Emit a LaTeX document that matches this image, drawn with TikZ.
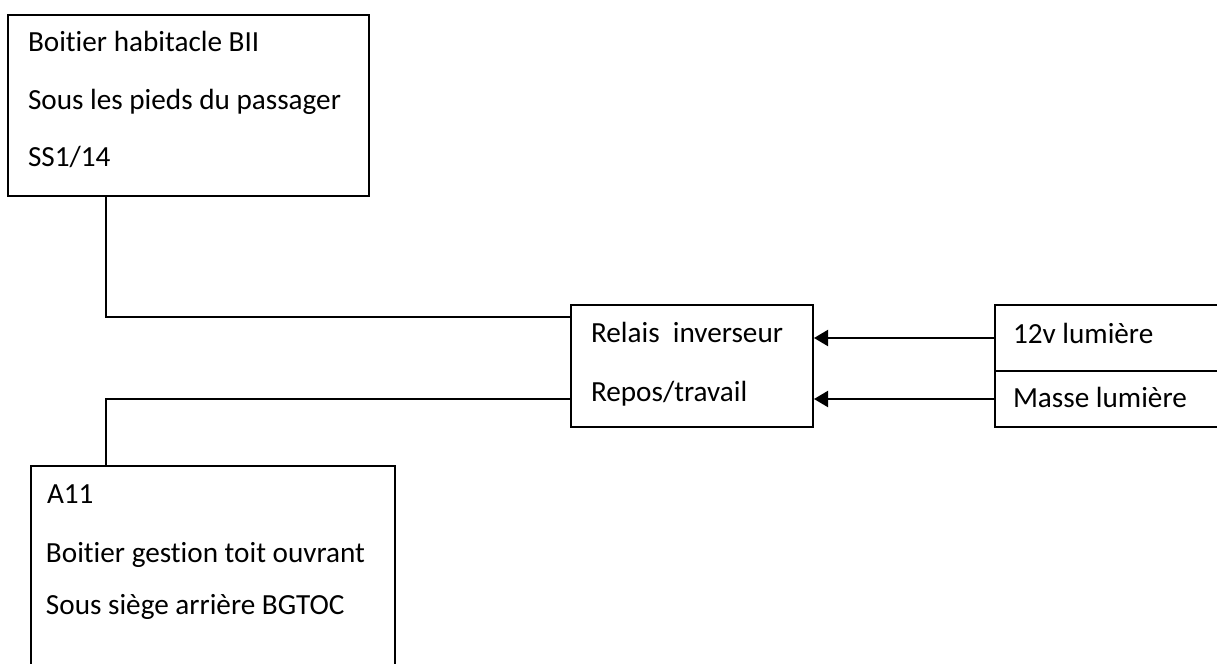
\documentclass[tikz,border=0pt]{standalone}
\usepackage{fontspec}
\setmainfont{Carlito}[Ligatures=NoCommon]
\usetikzlibrary{arrows.meta}
\usetikzlibrary{calc}

\begin{document}
\begin{tikzpicture}[x=0.5pt, y=-0.5pt, line width=1pt,
    box/.style = {draw, rectangle, inner sep=0pt, anchor=north west},
    txt/.style = {anchor=base west, inner sep=0pt, font=\fontsize{14.6}{17}\selectfont},
    arr/.style = {-{Triangle[length=7pt, width=8pt]}}]
    \useasboundingbox (0,0) rectangle (1217,664);
    \clip (0,0) rectangle (1217,664);

    \node [box, minimum width=180.5pt, minimum height=90.5pt] (bii) at (7,14) {};
    \node [box, minimum width=121pt, minimum height=61pt] (relais) at (570,304) {};
    \node [box, minimum width=120pt, minimum height=33pt] (v12) at (994,304) {};
    \node [box, minimum width=120pt, minimum height=28pt] (masse) at (994,370) {};
    \node [box, minimum width=182pt, minimum height=127.5pt] (a11) at (30,465) {};

    \node [txt] (bii1) at (27,52) {Boitier habitacle BII};
    \node [txt] (bii2) at (27,109) {Sous les pieds du passager};
    \node [txt] (bii3) at (27,166) {SS1/14};
    \node [txt] (relais1) at (590,342) {Relais\ \ inverseur};
    \node [txt] (relais2) at (590,401) {Repos/travail};
    \node [txt] (v12t) at (1012,343) {12v lumière};
    \node [txt] (massat) at (1012,407) {Masse lumière};
    \node [txt] (a111) at (46,503) {A11};
    \node [txt] (a112) at (45,562) {Boitier gestion toit ouvrant};
    \node [txt] (a113) at (45,614) {Sous siège arrière BGTOC};

    \coordinate (k1) at (106,317);
    \coordinate (k2) at (106,399);

    \draw (bii.south -| k1) -- (k1) -- (k1 -| relais.west);
    \draw (a11.north -| k2) -- (k2) -- (k2 -| relais.west);
    \draw[arr] (v12.west) -- (v12.west -| relais.east);
    \draw[arr] (masse.west) -- (masse.west -| relais.east);

\end{tikzpicture}
\end{document}
